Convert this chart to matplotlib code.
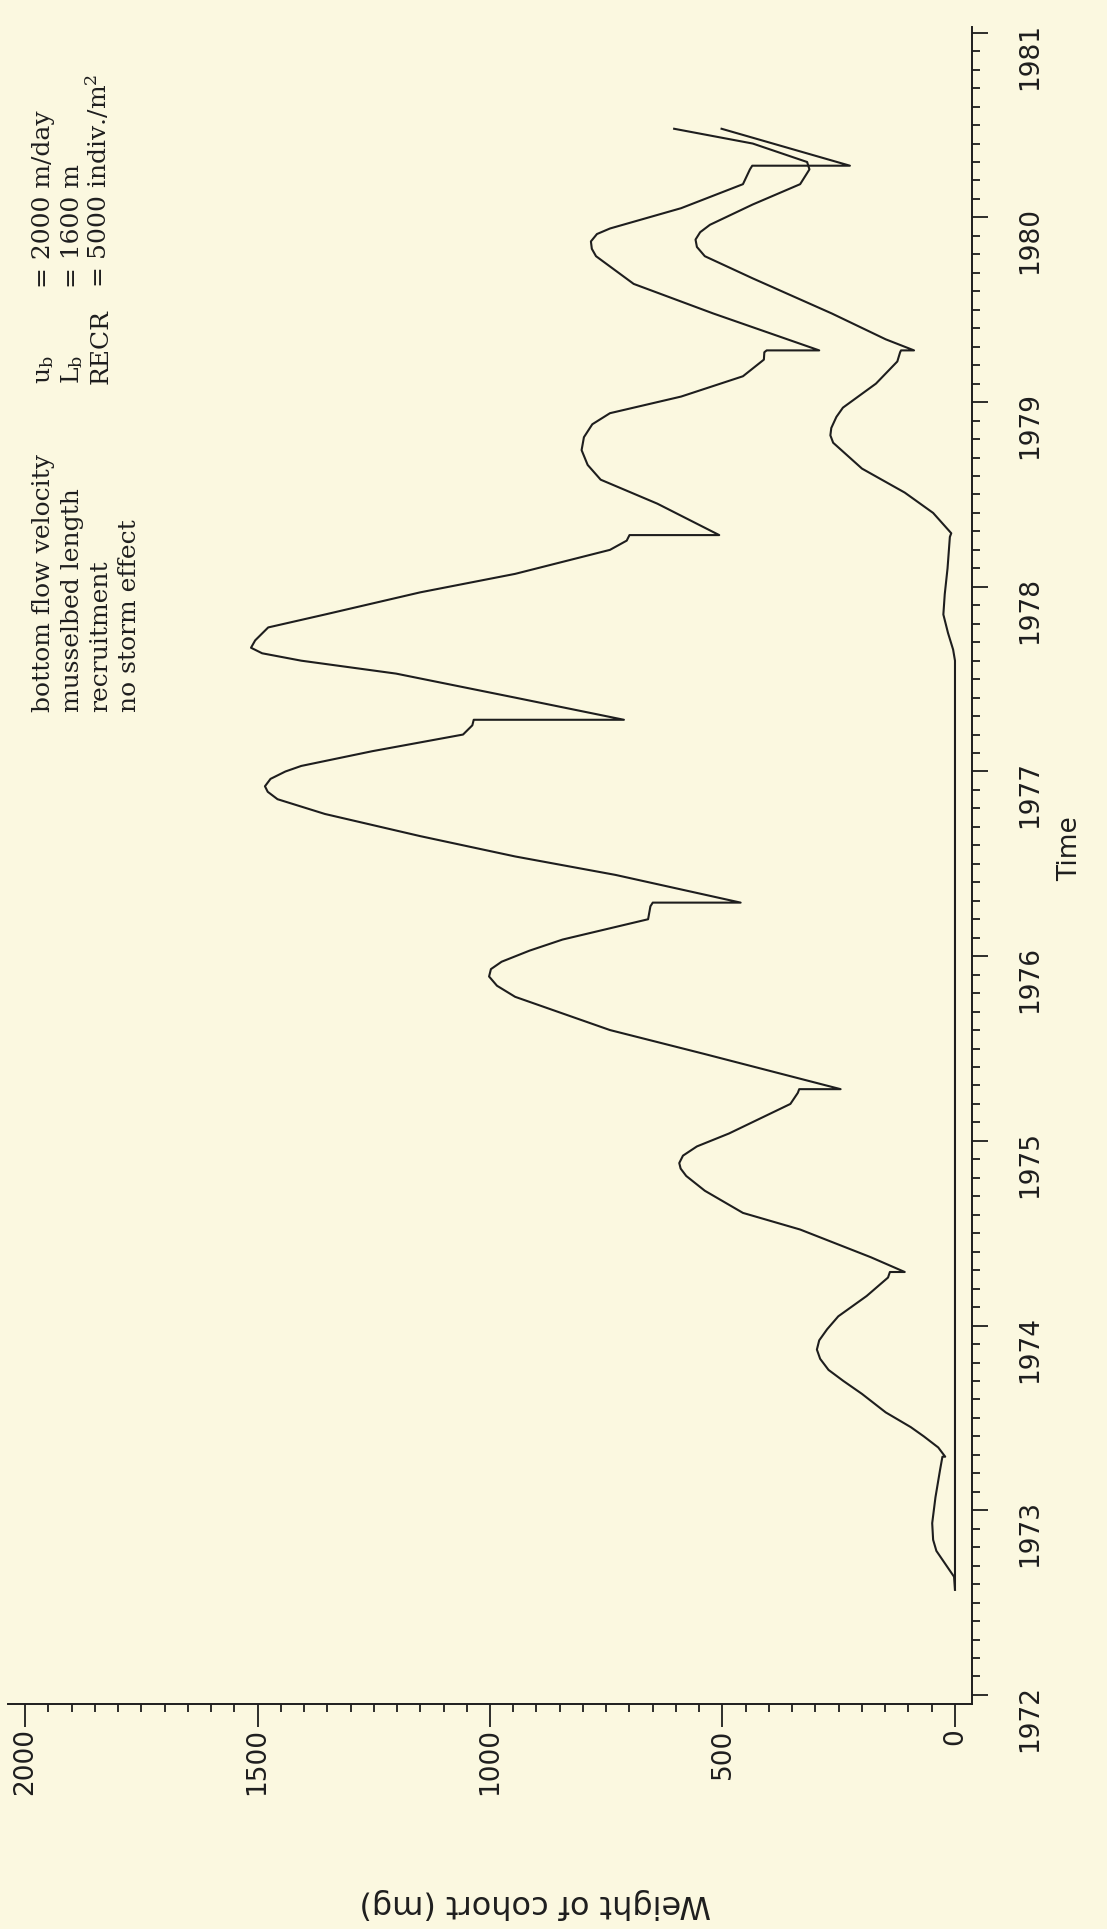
import matplotlib.pyplot as plt
from matplotlib.ticker import MultipleLocator

# Cohort settled in 1972 (decimal years, weight in mg).
# Repeated time values are the sudden losses at spawning.
time_a = [1972.57, 1972.64, 1972.71, 1972.78, 1972.84, 1972.93, 1973.07, 1973.22,
          1973.29, 1973.29, 1973.34, 1973.40, 1973.45, 1973.53, 1973.63, 1973.70,
          1973.76, 1973.82, 1973.87, 1973.92, 1973.98, 1974.05, 1974.16, 1974.26,
          1974.29, 1974.29, 1974.37, 1974.52, 1974.61, 1974.73, 1974.81, 1974.85,
          1974.88, 1974.92, 1974.97, 1975.04, 1975.20, 1975.26, 1975.28, 1975.28,
          1975.47, 1975.60, 1975.78, 1975.84, 1975.89, 1975.93, 1975.97, 1976.03,
          1976.09, 1976.20, 1976.27, 1976.29, 1976.29, 1976.44, 1976.54, 1976.65,
          1976.77, 1976.85, 1976.89, 1976.92, 1976.96, 1977.00, 1977.03, 1977.11,
          1977.20, 1977.25, 1977.28, 1977.28, 1977.40, 1977.53, 1977.60, 1977.64,
          1977.67, 1977.71, 1977.78, 1977.85, 1977.97, 1978.07, 1978.20, 1978.25,
          1978.28, 1978.28, 1978.45, 1978.58, 1978.66, 1978.74, 1978.81, 1978.88,
          1978.94, 1979.03, 1979.14, 1979.23, 1979.27, 1979.28, 1979.28, 1979.48,
          1979.64, 1979.79, 1979.83, 1979.87, 1979.91, 1979.94, 1980.05, 1980.18,
          1980.26, 1980.28, 1980.28, 1980.48]
weight_a = [0, 2, 21, 40, 47, 49, 42, 32,
            27, 21, 36, 67, 95, 149, 200, 240,
            272, 290, 297, 292, 275, 251, 190, 144,
            140, 108, 181, 333, 456, 538, 578, 590,
            593, 585, 555, 486, 354, 338, 335, 246,
            538, 742, 946, 985, 1002, 998, 975, 915,
            844, 660, 655, 650, 461, 730, 946, 1150,
            1355, 1457, 1478, 1484, 1472, 1440, 1406, 1253,
            1058, 1038, 1035, 712, 946, 1202, 1406, 1490,
            1514, 1505, 1477, 1355, 1150, 946, 742, 706,
            700, 507, 640, 762, 790, 803, 798, 780,
            742, 589, 456, 411, 410, 405, 292, 520,
            691, 772, 781, 783, 770, 742, 589, 456,
            441, 436, 226, 502]

# Cohort that only starts growing in 1977
time_b = [1972.57, 1977.60, 1977.66, 1977.75, 1977.85, 1977.96, 1978.10, 1978.27,
          1978.29, 1978.40, 1978.51, 1978.64, 1978.78, 1978.82, 1978.86, 1978.92,
          1978.97, 1979.10, 1979.22, 1979.27, 1979.28, 1979.28, 1979.34, 1979.48,
          1979.67, 1979.79, 1979.84, 1979.88, 1979.92, 1979.96, 1980.07, 1980.18,
          1980.26, 1980.30, 1980.40, 1980.48]
weight_b = [0, 0, 4, 15, 25, 22, 16, 11,
            8, 47, 108, 200, 262, 268, 266, 255,
            241, 170, 124, 118, 116, 88, 149, 265,
            435, 538, 555, 558, 548, 527, 435, 333,
            313, 318, 435, 604]

year_ticks = list(range(1972, 1982))
weight_ticks = [0, 500, 1000, 1500, 2000]

param_names = ['bottom flow velocity', 'musselbed length', 'recruitment', 'no storm effect']
param_symbols = [r'u$_{\rm b}$', r'L$_{\rm b}$', 'RECR', '']
param_values = ['= 2000 m/day', '= 1600 m', r'= 5000 indiv./m$^{2}$', '']

W, H = 1107, 1929
paper = '#fbf8e0'
ink = '#1e1e1e'

plt.rcParams['mathtext.fontset'] = 'dejavuserif'

fig = plt.figure(figsize=(W / 100, H / 100), dpi=100, facecolor=paper)
ax = fig.add_axes([8 / W, 1 - 1704 / H, 964 / W, 1677 / H])
ax.set_facecolor(paper)

# the page is turned: weight runs right-to-left, time runs upwards
ax.plot(weight_a, time_a, color=ink, lw=1.5)
ax.plot(weight_b, time_b, color=ink, lw=1.5)

ax.set_xlim(2036.6, -36.6)
ax.set_ylim(1971.951, 1981.031)

for side in ['left', 'top']:
    ax.spines[side].set_visible(False)
for side in ['bottom', 'right']:
    ax.spines[side].set_linewidth(1.4)
    ax.spines[side].set_color(ink)

ax.yaxis.tick_right()
ax.set_xticks(weight_ticks)
ax.xaxis.set_minor_locator(MultipleLocator(50))
ax.set_yticks(year_ticks)
ax.yaxis.set_minor_locator(MultipleLocator(0.1))

ax.tick_params(axis='x', which='major', length=16.5, width=1.3, color=ink,
               labelsize=19, labelrotation=90, pad=1, labelcolor=ink)
ax.tick_params(axis='y', which='major', length=11.5, width=1.3, color=ink,
               labelsize=19, labelrotation=90, pad=21, labelcolor=ink)
ax.tick_params(which='minor', length=5.8, width=1.3, color=ink)

fig.text(1070 / W, 1 - 849 / H, 'Time', rotation=90, ha='center', va='center',
         fontsize=19, color=ink)
fig.text(535 / W, 1 - 1903 / H, 'Weight of cohort (mg)', rotation=180,
         ha='center', va='center', fontsize=23, color=ink)

# parameter block, typed in three columns (text runs upwards)
for i in range(len(param_names)):
    xb = (50 + 28.7 * i) / W
    kw = dict(rotation=90, rotation_mode='anchor', ha='left', va='baseline',
              family='DejaVu Serif', fontsize=18, color=ink)
    fig.text(xb, 1 - 712 / H, param_names[i], **kw)
    if param_symbols[i]:
        fig.text(xb, 1 - 384 / H, param_symbols[i], **kw)
        fig.text(xb, 1 - 288 / H, param_values[i], **kw)

fig.savefig('out.png', dpi=100, facecolor=paper)
